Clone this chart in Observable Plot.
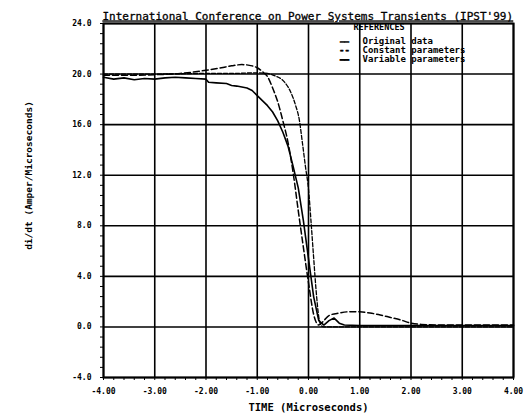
<!DOCTYPE html>
<html><head><meta charset="utf-8">
<script src="https://cdn.jsdelivr.net/npm/d3@7"></script>
<script src="https://cdn.jsdelivr.net/npm/@observablehq/plot@0.6"></script>
<style>body{margin:0;background:#fff}</style>
</head><body><div id="chart"></div>
<script>
const title = "International Conference on Power Systems Transients (IPST'99)";
const xLabel = "TIME (Microseconds)";
const yLabel = "di/dt (Amper/Microseconds)";
const legendTitle = "REFERENCES";
const seriesNames = ["Original data", "Constant parameters", "Variable parameters"];
const legendSymbols = ["\u2014\u2014", "--", "\u2014\u2014"];
const xTicks = [-4, -3, -2, -1, 0, 1, 2, 3, 4];
const yTicks = [-4, 0, 4, 8, 12, 16, 20, 24];

const tOrig = [-4,-3.8,-3.6,-3.4,-3.2,-3.0,-2.8,-2.6,-2.4,-2.2,-2.0,-1.95,-1.8,-1.6,-1.5,-1.4,-1.2,-1.1,-1.0,-0.9,-0.8,-0.7,-0.6,-0.5,-0.4,-0.3,-0.2,-0.1,0.0,0.1,0.2,0.3,0.4,0.5,0.6,0.7,1.0,2.0,3.0,4.0];
const vOrig = [19.75,19.6,19.7,19.55,19.65,19.6,19.7,19.75,19.7,19.65,19.6,19.35,19.3,19.25,19.1,19.05,18.9,18.7,18.3,17.9,17.5,17.0,16.3,15.4,14.3,12.7,11.0,8.4,5.4,2.4,0.5,0.15,0.5,0.7,0.3,0.15,0.1,0.1,0.1,0.1];

const tConst = [-4,-3.5,-3,-2.5,-2.0,-1.7,-1.5,-1.3,-1.1,-1.0,-0.9,-0.8,-0.7,-0.6,-0.5,-0.4,-0.3,-0.2,-0.1,0.0,0.1,0.2,0.3,0.4,0.6,0.8,1.0,1.2,1.4,1.6,1.8,2.0,2.2,2.6,3.0,3.5,4.0];
const vConst = [19.9,19.9,19.95,20.05,20.3,20.5,20.65,20.75,20.65,20.5,20.2,19.8,18.9,17.8,16.3,14.6,12.2,9.2,6.3,3.5,1.0,0.15,0.5,0.9,1.1,1.2,1.2,1.1,0.95,0.75,0.55,0.3,0.2,0.15,0.15,0.15,0.15];

const tVar = [-4,-3,-2,-1.5,-1.0,-0.8,-0.65,-0.5,-0.35,-0.25,-0.18,-0.12,-0.06,0.0,0.05,0.1,0.15,0.2,0.25,0.3,1.0,2.0,3.0,4.0];
const vVar = [20.0,20.0,20.05,20.05,20.1,20.05,19.85,19.5,18.6,17.5,16.4,14.6,12.7,10.9,8.3,5.5,2.8,0.8,0.1,0.0,0.0,0.0,0.0,0.0];

const orig = tOrig.map((t, i) => ({t, v: vOrig[i]}));
const cons = tConst.map((t, i) => ({t, v: vConst[i]}));
const vari = tVar.map((t, i) => ({t, v: vVar[i]}));

const xMinor = d3.range(-4, 4.0001, 0.2);
const yMinor = d3.range(-4, 24.0001, 0.8);
const mono = "DejaVu Sans Mono";

const legendMarks = seriesNames.flatMap((name, i) => [
  Plot.text([legendSymbols[i]], {frameAnchor: "top-left", dx: 241, dy: 18 + i * 9, textAnchor: "middle", lineAnchor: "middle",
    fontSize: i === 1 ? 9 : 7.5, fontWeight: "bold", fontFamily: mono, fill: "#000", stroke: "#000", strokeWidth: i === 2 ? 0.9 : 0.5}),
  Plot.text([name], {frameAnchor: "top-left", dx: 259, dy: 18 + i * 9, textAnchor: "start", lineAnchor: "middle",
    fontSize: 9, fontWeight: "bold", fontFamily: mono})
]);

const chart = Plot.plot({
  width: 526,
  height: 415,
  marginLeft: 103,
  marginRight: 13,
  marginTop: 23,
  marginBottom: 38,
  style: {background: "#fff", fontFamily: mono, color: "#000", overflow: "visible"},
  x: {domain: [-4, 4], label: null},
  y: {domain: [-4, 24], label: null},
  marks: [
    Plot.gridX(xTicks, {stroke: "#000", strokeOpacity: 1, strokeWidth: 1.6}),
    Plot.gridY(yTicks, {stroke: "#000", strokeOpacity: 1, strokeWidth: 1.6}),
    Plot.frame({stroke: "#000", strokeWidth: 2}),
    Plot.axisX(xMinor, {tickSize: 3, tickFormat: () => "", strokeWidth: 1, label: null}),
    Plot.axisY(yMinor, {tickSize: 3, tickFormat: () => "", strokeWidth: 1, label: null}),
    Plot.axisX(xTicks, {tickSize: 0, tickPadding: 11, tickFormat: d => d.toFixed(2), fontSize: 8, fontWeight: "bold", fontFamily: mono, label: null}),
    Plot.axisY(yTicks, {tickSize: 0, tickPadding: 12, tickFormat: d => d.toFixed(1), fontSize: 8, fontWeight: "bold", fontFamily: mono, label: null}),
    Plot.line(orig, {x: "t", y: "v", stroke: "#000", strokeWidth: 1.6}),
    Plot.line(cons, {x: "t", y: "v", stroke: "#000", strokeWidth: 1.5, strokeDasharray: "6,3", curve: "monotone-x"}),
    Plot.line(vari, {x: "t", y: "v", stroke: "#000", strokeWidth: 1.3, strokeDasharray: "4,2", curve: "monotone-x"}),
    Plot.text([title], {frameAnchor: "top-left", dx: -1, dy: -4, textAnchor: "start", lineAnchor: "bottom", fontSize: 11, fontFamily: mono, fill: "#000", stroke: "#000", strokeWidth: 0.3}),
    Plot.text([xLabel], {frameAnchor: "bottom", dy: 30, lineAnchor: "middle", fontSize: 10.5, fontWeight: "bold", fontFamily: mono}),
    Plot.text([yLabel], {frameAnchor: "left", dx: -75, dy: -25, rotate: -90, textAnchor: "middle", lineAnchor: "middle", fontSize: 9.5, fontWeight: "bold", fontFamily: mono}),
    Plot.text([legendTitle], {frameAnchor: "top-left", dx: 250, dy: 4, textAnchor: "start", lineAnchor: "middle", fontSize: 8.5, fontWeight: "bold", fontFamily: mono}),
    ...legendMarks
  ]
});
d3.select(chart).selectAll("text").filter(function() { return this.textContent === title; })
  .style("text-decoration", "underline");
document.getElementById("chart").appendChild(chart);
</script>
</body></html>
